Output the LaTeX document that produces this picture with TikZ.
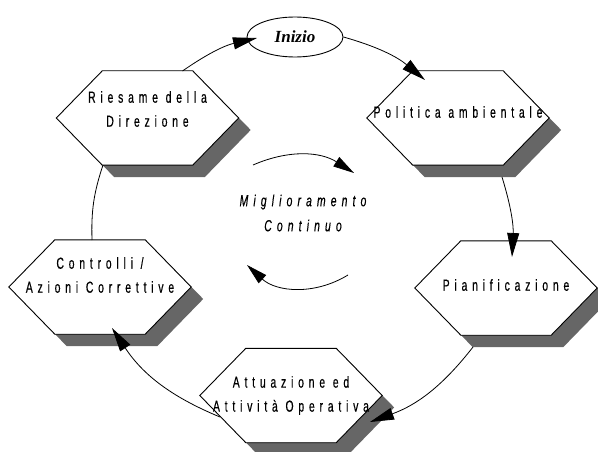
\documentclass[tikz,border=0pt]{standalone}
\usepackage{fontspec}
\usetikzlibrary{shapes.geometric,arrows.meta}
\newfontfamily\hexfont[FakeStretch=0.65,LetterSpace=30,FakeBold=0.4]{Liberation Sans}
\newfontfamily\midfont[FakeStretch=0.65,LetterSpace=32,ItalicFont={Liberation Sans Italic},ItalicFeatures={FakeStretch=0.65,LetterSpace=32,FakeBold=0.4}]{Liberation Sans}
\newfontfamily\startfont{Liberation Serif}
\definecolor{shadowcol}{HTML}{666666}
\tikzset{
  hexbox/.style={rectangle, minimum width=182pt, minimum height=94pt, inner sep=0pt},
  hexline/.style={draw=black, fill=white, line width=0.9pt, line join=miter},
  hextext/.style={font=\hexfont\fontsize{16}{24}\selectfont, align=center, inner sep=0pt},
  midtext/.style={font=\midfont\itshape\fontsize{16}{25}\selectfont, align=center, inner sep=0pt},
  startnode/.style={ellipse, draw, line width=0.9pt, minimum width=96pt, minimum height=40pt, inner sep=0pt,
    font=\startfont\bfseries\itshape\fontsize{17}{20}\selectfont},
  conn/.style={line width=0.8pt, -{Triangle[length=24pt,width=12pt]}},
  plainconn/.style={line width=0.8pt},
  smallconn/.style={line width=0.8pt, -{Triangle[length=21pt,width=11pt]}}
}
\newcommand\hexdraw[1]{%
  \fill[shadowcol] ([shift={(12,12)}]#1.west) -- ([shift={(58,12)}]#1.north west) -- ([shift={(-34,12)}]#1.north east)
    -- ([shift={(12,12)}]#1.east) -- ([shift={(-34,12)}]#1.south east) -- ([shift={(58,12)}]#1.south west) -- cycle;
  \path[hexline] (#1.west) -- ([shift={(46,0)}]#1.north west) -- ([shift={(-46,0)}]#1.north east)
    -- (#1.east) -- ([shift={(-46,0)}]#1.south east) -- ([shift={(46,0)}]#1.south west) -- cycle;}
\begin{document}
\begin{tikzpicture}[x=1pt, y=-1pt]
\path[use as bounding box] (0,0) rectangle (598,452);
% hexagon frames
\node[hexbox] (riesame) at (147.5,118) {};
\node[hexbox] (politica) at (458,118) {};
\node[hexbox] (pianif) at (506,288) {};
\node[hexbox] (controlli) at (100,287) {};
\node[hexbox] (attuaz) at (291,395.5) {};
\hexdraw{riesame}
\hexdraw{politica}
\hexdraw{pianif}
\hexdraw{controlli}
\hexdraw{attuaz}
% texts
\node[hextext] (riesame-t) at ([shift={(0,-9)}]riesame.center) {Riesame della\\Direzione};
\node[hextext] (politica-t) at ([shift={(0,-6)}]politica.center) {Politica ambientale};
\node[hextext] (pianif-t) at ([shift={(0,-3)}]pianif.center) {Pianificazione};
\node[hextext] (controlli-t) at ([shift={(0,-12)}]controlli.center) {Controlli /\\Azioni Correttive};
\node[hextext] (attuaz-t) at (attuaz.center) {Attuazione ed\\Attività Operativa};
\node[startnode] (inizio) at (295,37) {Inizio};
\node[midtext] (mig) at (303,213) {Miglioramento\\Continuo};
% cycle connectors
\draw[conn] ([shift={(35,-47)}]riesame.center) to[bend left=11] ([shift={(-38,1)}]inizio.center);
\draw[conn] (inizio.east) to[bend left=12] ([shift={(-33,-38)}]politica.center);
\draw[conn] ([shift={(44,59)}]politica.center) to[bend left=10] ([shift={(6,-31)}]pianif.center);
\draw[conn] ([shift={(-33,59)}]pianif.center) to[bend left=16] ([shift={(79,26.5)}]attuaz.center);
\draw[conn] ([shift={(-71,21.5)}]attuaz.center) to[bend left=17] ([shift={(12,41)}]controlli.center);
\draw[plainconn] ([shift={(-8,-47)}]controlli.center) to[bend left=10] ([shift={(-44.5,47)}]riesame.center);
% inner arrows
\coordinate (up-s) at (253,165);
\coordinate (up-e) at (354,173);
\coordinate (lo-s) at (348,275);
\coordinate (lo-e) at (247,265);
\draw[smallconn] (up-s) to[bend left=28] (up-e);
\draw[smallconn] (lo-s) to[bend left=37] (lo-e);
\end{tikzpicture}
\end{document}
